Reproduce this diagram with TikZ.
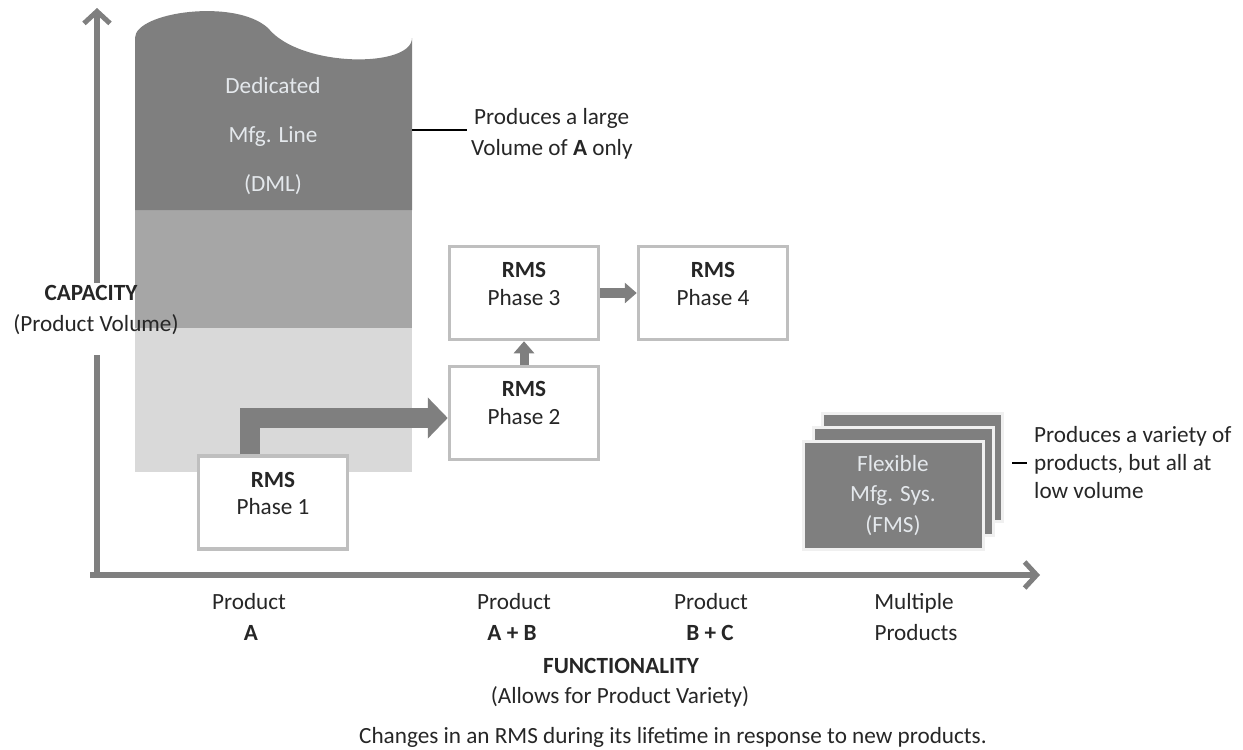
\documentclass[tikz,border=0pt]{standalone}
\usepackage{fontspec}
\setmainfont{Carlito}
\usetikzlibrary{arrows.meta}
\definecolor{dkg}{HTML}{7F7F7F}
\definecolor{mdg}{HTML}{A6A6A6}
\definecolor{ltg}{HTML}{D9D9D9}
\definecolor{bxg}{HTML}{BFBFBF}
\definecolor{txl}{HTML}{E4E8EC}
\definecolor{txd}{HTML}{262626}
\tikzset{
  lbl/.style={font=\fontsize{23.2}{27}\selectfont, text=txd, inner sep=0pt, anchor=base},
  lblb/.style={lbl, font=\fontsize{23.2}{27}\selectfont\bfseries},
  lbllight/.style={lbl, text=txl},
  rmsbox/.style={draw=bxg, fill=white, line width=3.5pt, minimum width=149pt, minimum height=93pt, inner sep=0pt},
  fmsbox/.style={draw=white!94!black, fill=dkg, line width=3pt, minimum width=180pt, minimum height=108pt, inner sep=0pt},
  axis/.style={draw=dkg, line width=5.5pt, -{Straight Barb[length=12pt,width=26pt,line width=5pt]}},
  bigarrow/.style={draw=dkg, line width=20pt, -{Triangle[length=20pt,width=40pt]}},
  midarrow/.style={draw=dkg, line width=9pt, -{Triangle[length=12pt,width=20pt]}},
  leader/.style={draw=black, line width=1.8pt},
}
\begin{document}
\begin{tikzpicture}[x=1pt,y=-1pt]
\useasboundingbox (0,0) rectangle (1243,750);
% axes
\coordinate (o) at (97,575);
\coordinate (ytop) at (97,8);
\coordinate (xo) at (90,575);
\coordinate (xend) at (1040,575);
\draw[axis] (o) -- (ytop);
\draw[axis] (xo) -- (xend);
\fill[white] (60,283) rectangle (133,355);
% DML column
\fill[ltg] (135,328) rectangle (412,472);
\fill[mdg] (135,210) rectangle (412,328);
\fill[dkg] (135,210) -- (135,38) .. controls (135,12) and (235,-2) .. (268,28)
  .. controls (300,68) and (412,68) .. (412,38) -- (412,210) -- cycle;
\node[lbllight] (d1) at (273,93) {Dedicated};
\node[lbllight] (d2) at (273,142) {Mfg. Line};
\node[lbllight] (d3) at (273,191) {(DML)};
% DML leader
\coordinate (l1a) at (412,130);
\coordinate (l1b) at (467,130);
\draw[leader] (l1a) -- (l1b);
\node[lbl, anchor=base west] (t1) at (474,124) {Produces a large};
\node[lbl, anchor=base west] (t2) at (471,155) {Volume of \textbf{A} only};
% capacity
\node[lblb] (cap) at (91,300) {CAPACITY};
\node[lbl] (capv) at (96,331) {(Product Volume)};
% RMS boxes
\node[rmsbox] (p1) at (273,502.5) {};
\node[lblb] (p1a) at (273,487) {RMS};
\node[lbl] (p1b) at (273,514) {Phase 1};
\node[rmsbox] (p2) at (524,413) {};
\node[lblb] (p2a) at (524,396) {RMS};
\node[lbl] (p2b) at (524,424) {Phase 2};
\node[rmsbox] (p3) at (524,293) {};
\node[lblb] (p3a) at (524,277) {RMS};
\node[lbl] (p3b) at (524,305) {Phase 3};
\node[rmsbox] (p4) at (713,293) {};
\node[lblb] (p4a) at (713,277) {RMS};
\node[lbl] (p4b) at (713,305) {Phase 4};
% arrows
\draw[bigarrow, line join=miter] (p1.north -| 250,0) |- ([yshift=-5pt]p2.west);
\draw[midarrow] (p2.north) -- (p3.south);
\draw[midarrow, line width=10pt] (p3.east) -- (p4.west);
% FMS stack
\node[fmsbox] (f3) at (912,467) {};
\node[fmsbox] (f2) at (903,481) {};
\node[fmsbox] (f1) at (893,495) {};
\node[lbllight] (fa) at (893,471) {Flexible};
\node[lbllight] (fb) at (893,501) {Mfg. Sys.};
\node[lbllight] (fc) at (893,532) {(FMS)};
\coordinate (l2a) at (1012,463);
\coordinate (l2b) at (1027,463);
\draw[leader, line width=1.5pt] (l2a) -- (l2b);
\node[lbl, anchor=base west] (u1) at (1034,442) {Produces a variety of};
\node[lbl, anchor=base west] (u2) at (1034,470) {products, but all at};
\node[lbl, anchor=base west] (u3) at (1034,498) {low volume};
% x labels
\node[lbl] (xa1) at (249,609) {Product};
\node[lblb] (xa2) at (251,640) {A};
\node[lbl] (xb1) at (514,609) {Product};
\node[lblb] (xb2) at (512,640) {A + B};
\node[lbl] (xc1) at (711,609) {Product};
\node[lblb] (xc2) at (710,640) {B + C};
\node[lbl] (xd1) at (914,609) {Multiple};
\node[lbl] (xd2) at (916,640) {Products};
\node[lblb] (fun) at (621,673) {FUNCTIONALITY};
\node[lbl] (funv) at (620,703) {(Allows for Product Variety)};
\node[lbl] (cap2) at (673,743) {Changes in an RMS during its lifetime in response to new products.};
\end{tikzpicture}
\end{document}
